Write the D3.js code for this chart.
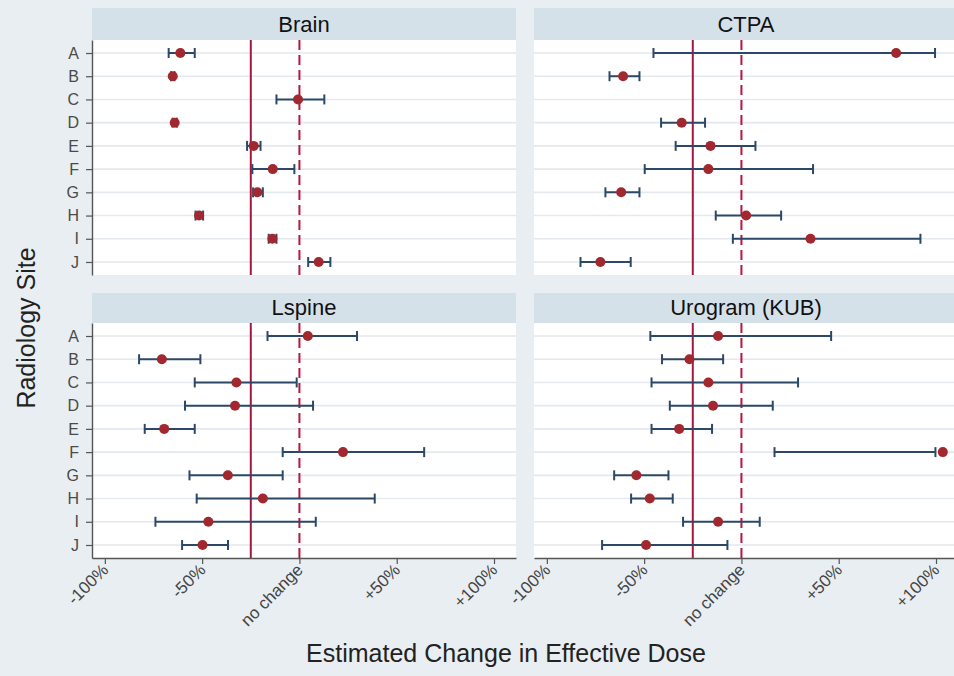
<!DOCTYPE html>
<html>
<head>
<meta charset="utf-8">
<script src="https://cdn.jsdelivr.net/npm/d3@7"></script>
<style>
  body { margin: 0; background: #e8eef1; }
  svg { display: block; font-family: "Liberation Sans", Arial, sans-serif; }
</style>
</head>
<body>
<div id="chart"></div>
<script>
// ── Data ────────────────────────────────────────────────────────────────────
const sites = ["A", "B", "C", "D", "E", "F", "G", "H", "I", "J"];
const panelNames = ["Brain", "CTPA", "Lspine", "Urogram (KUB)"];

const brainEst = [-61.2, -65.1, -0.7, -64.1, -23.5, -13.7, -21.6, -51.6, -13.9, 9.9];
const brainLo  = [-67.2, -66.0, -11.8, -65.2, -26.9, -24.2, -23.8, -53.4, -15.8, 4.5];
const brainHi  = [-53.8, -64.2, 12.8, -63.0, -20.0, -2.6, -18.8, -49.5, -11.8, 15.9];

const ctpaEst = [79.5, -60.8, null, -30.7, -15.9, -17.0, -61.8, 2.4, 35.5, -72.5];
const ctpaLo  = [-45.2, -67.8, null, -41.3, -33.8, -49.7, -69.9, -13.2, -4.4, -82.7];
const ctpaHi  = [99.5, -52.4, null, -18.7, 7.2, 36.8, -52.4, 20.4, 92.0, -56.9];

const lspineEst = [4.3, -70.7, -32.4, -33.1, -69.5, 22.4, -36.8, -18.8, -46.8, -49.8];
const lspineLo  = [-16.4, -82.4, -53.8, -58.8, -79.5, -8.6, -56.5, -52.8, -74.0, -60.3];
const lspineHi  = [29.6, -50.9, -1.4, 7.0, -53.8, 64.1, -8.6, 38.7, 8.4, -36.7];

const urogramEst = [-12.0, -26.7, -17.0, -14.6, -32.0, 103.5, -54.0, -47.1, -12.0, -49.0];
const urogramLo  = [-46.8, -40.8, -46.2, -36.8, -46.2, 17.0, -65.4, -56.7, -30.0, -71.6];
const urogramHi  = [46.1, -9.4, 29.1, 16.1, -15.1, 99.7, -37.5, -35.3, 9.4, -7.2];

const tickValues = [-100, -50, 0, 50, 100];
const tickLabels = ["-100%", "-50%", "no change", "+50%", "+100%"];
const solidRef = -25;   // solid reference line
const dashedRef = 0;    // "no change"

const series = [
  [brainEst, brainLo, brainHi],
  [ctpaEst, ctpaLo, ctpaHi],
  [lspineEst, lspineLo, lspineHi],
  [urogramEst, urogramLo, urogramHi]
];

// ── Layout ──────────────────────────────────────────────────────────────────
const W = 954, H = 676;
const cols = [{ x0: 92, x1: 516 }, { x0: 534, x1: 958 }];
const rows = [{ hTop: 8, top: 40, bottom: 275 }, { hTop: 293, top: 323, bottom: 558 }];
const X_DOMAIN = [-106.6, 111.3];

const RED = "#a3173f";
const BAR = "#2c4868";
const DOT = "#a0282e";

const svg = d3.select("#chart").append("svg")
  .attr("width", W).attr("height", H);

svg.append("rect").attr("width", W).attr("height", H).attr("fill", "#e8eef1");

panelNames.forEach((name, i) => {
  const col = cols[i % 2];
  const row = rows[Math.floor(i / 2)];
  const [est, lo, hi] = series[i];
  const data = sites.map((s, k) => ({ site: s, est: est[k], lo: lo[k], hi: hi[k] }))
    .filter((d) => d.est != null);

  const x = d3.scaleLinear().domain(X_DOMAIN).range([col.x0, col.x1]);
  const y = d3.scalePoint().domain(sites).range([row.top, row.bottom]).padding(0.56);

  const g = svg.append("g");

  // header strip
  g.append("rect")
    .attr("x", col.x0).attr("y", row.hTop)
    .attr("width", col.x1 - col.x0).attr("height", row.top - row.hTop)
    .attr("fill", "#d5e1e9");
  g.append("text")
    .attr("x", (col.x0 + col.x1) / 2).attr("y", row.top - 8)
    .attr("text-anchor", "middle")
    .attr("font-size", 22).attr("fill", "#111")
    .text(name);

  // plot area
  g.append("rect")
    .attr("x", col.x0).attr("y", row.top)
    .attr("width", col.x1 - col.x0).attr("height", row.bottom - row.top)
    .attr("fill", "#fff");

  // row grid lines
  g.append("g").selectAll("line").data(sites).join("line")
    .attr("x1", col.x0).attr("x2", col.x1)
    .attr("y1", (d) => y(d)).attr("y2", (d) => y(d))
    .attr("stroke", "#e4e9ed").attr("stroke-width", 1.6);

  // reference lines
  g.append("line")
    .attr("x1", x(solidRef)).attr("x2", x(solidRef))
    .attr("y1", row.top).attr("y2", row.bottom)
    .attr("stroke", RED).attr("stroke-width", 2);
  g.append("line")
    .attr("x1", x(dashedRef)).attr("x2", x(dashedRef))
    .attr("y1", row.top).attr("y2", row.bottom)
    .attr("stroke", "#b8163f").attr("stroke-width", 2)
    .attr("stroke-dasharray", "10 5");

  // error bars
  const bars = g.append("g").attr("stroke", BAR).attr("stroke-width", 2)
    .selectAll("g").data(data).join("g");
  bars.append("line")
    .attr("x1", (d) => x(d.lo)).attr("x2", (d) => x(d.hi))
    .attr("y1", (d) => y(d.site)).attr("y2", (d) => y(d.site));
  bars.append("line")
    .attr("x1", (d) => x(d.lo)).attr("x2", (d) => x(d.lo))
    .attr("y1", (d) => y(d.site) - 5).attr("y2", (d) => y(d.site) + 5);
  bars.append("line")
    .attr("x1", (d) => x(d.hi)).attr("x2", (d) => x(d.hi))
    .attr("y1", (d) => y(d.site) - 5).attr("y2", (d) => y(d.site) + 5);

  // point estimates
  g.append("g").selectAll("circle").data(data).join("circle")
    .attr("cx", (d) => x(d.est)).attr("cy", (d) => y(d.site))
    .attr("r", 5).attr("fill", DOT);

  // y axis (left column only)
  if (i % 2 === 0) {
    const ya = g.append("g")
      .attr("transform", `translate(${col.x0},0)`)
      .call(d3.axisLeft(y).tickSize(6).tickPadding(7).tickSizeOuter(0));
    ya.select(".domain").attr("stroke", "#555").attr("stroke-width", 1.4);
    ya.selectAll(".tick line").attr("stroke", "#555").attr("stroke-width", 1.2);
    ya.selectAll(".tick text").attr("font-size", 16).attr("fill", "#4a4a4a")
      .attr("font-family", "Liberation Sans, Arial, sans-serif");
  }

  // x axis (bottom row only)
  if (i >= 2) {
    const xa = g.append("g")
      .attr("transform", `translate(0,${row.bottom})`)
      .call(d3.axisBottom(x).tickValues(tickValues)
        .tickFormat((d, k) => tickLabels[k]).tickSize(6).tickSizeOuter(0));
    xa.select(".domain").attr("stroke", "#555").attr("stroke-width", 1.4);
    xa.selectAll(".tick line").attr("stroke", "#555").attr("stroke-width", 1.2);
    xa.selectAll(".tick text")
      .attr("font-size", 17).attr("fill", "#444")
      .attr("font-family", "Liberation Sans, Arial, sans-serif")
      .attr("text-anchor", "end")
      .attr("x", 0).attr("y", 0).attr("dy", null)
      .attr("transform", "translate(4,13) rotate(-45)");
  }
});

// ── Axis titles ─────────────────────────────────────────────────────────────
svg.append("text")
  .attr("transform", "translate(35,328) rotate(-90)")
  .attr("text-anchor", "middle")
  .attr("font-size", 25).attr("fill", "#222")
  .text("Radiology Site");

svg.append("text")
  .attr("x", 506).attr("y", 662)
  .attr("text-anchor", "middle")
  .attr("font-size", 25).attr("fill", "#222")
  .text("Estimated Change in Effective Dose");
</script>
</body>
</html>
